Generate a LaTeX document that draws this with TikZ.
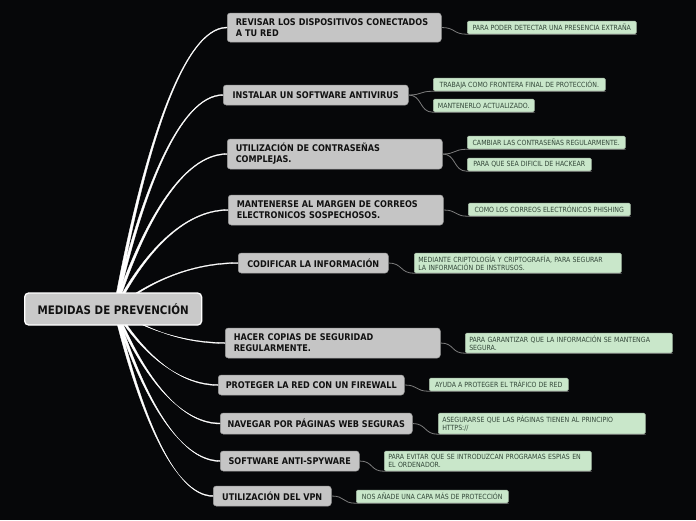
\documentclass[tikz,border=0pt]{standalone}
\usepackage{fontspec}
\setmainfont{DejaVu Sans}
\newfontfamily\mainf[FakeStretch=0.88]{DejaVu Sans}
\usetikzlibrary{calc}
\definecolor{bg}{HTML}{060709}
\definecolor{mainfill}{HTML}{C5C5C5}
\definecolor{mainborder}{HTML}{9A9A9A}
\definecolor{rootfill}{HTML}{C9C9C9}
\definecolor{maintext}{HTML}{111111}
\definecolor{greenfill}{HTML}{C9E7CA}
\definecolor{greenborder}{HTML}{A4B8A4}
\definecolor{greentext}{HTML}{34483A}
\definecolor{twigcol}{HTML}{7C7C7C}
\tikzset{
  rootbox/.style={rounded corners=4pt, fill=rootfill, draw=white, line width=1.3pt,
    font=\mainf\bfseries\fontsize{11.7}{13}\selectfont, text=maintext,
    inner sep=0pt, anchor=west},
  mainbox/.style={rounded corners=3pt, fill=mainfill, draw=mainborder, line width=0.5pt,
    font=\mainf\bfseries\fontsize{9.2}{11}\selectfont, text=maintext, align=left,
    inner sep=0pt, anchor=west},
  mainwide/.style={mainbox, inner xsep=8.5pt, text width=#1},
  greenbox/.style={rounded corners=1.5pt, fill=greenfill, draw=greenborder, line width=0.5pt,
    font=\mainf\fontsize{7.1}{8}\selectfont, text=greentext, align=left,
    inner sep=0pt, anchor=west},
  greenwide/.style={greenbox, inner xsep=4pt, text width=199pt},
  twig/.style={draw=twigcol, line width=0.8pt},
  trunkline/.style={fill=white, draw=white, line width=0.3pt},
}
\newcommand\trunkto[1]{%
  \draw[trunkline] let \p1=(rootc), \p2=(#1.west) in
    ({\x1-1.6pt},\y1) .. controls ({\x1+0.25*(\x2-\x1)-1.2pt},{\y1+0.55*(\y2-\y1)})
      and ({\x1+0.6*(\x2-\x1)},{\y2+0.45pt}) .. ({\x2},{\y2+0.5pt})
    -- ({\x2},{\y2-0.5pt})
    .. controls ({\x1+0.6*(\x2-\x1)},{\y2-0.45pt})
      and ({\x1+0.25*(\x2-\x1)+1.2pt},{\y1+0.55*(\y2-\y1)}) .. ({\x1+1.6pt},\y1)
    -- cycle;}
\newcommand\twigto[2]{%
  \draw[twig] (#1.east) .. controls +(14,0) and +(-14,0) .. (#2.south west) -- (#2.south east);}
\begin{document}
\begin{tikzpicture}[x=1pt,y=-1pt]
\fill[bg] (0,0) rectangle (696,520);
\useasboundingbox (0,0) rectangle (696,520);

\coordinate (rootc) at (115,309);

% main nodes
\node[mainwide=197pt, minimum width=214pt, minimum height=29pt] (m1) at (227,27.5) {REVISAR LOS DISPOSITIVOS CONECTADOS\\A TU RED};
\node[mainbox, minimum width=185pt, minimum height=20pt] (m2) at (223,95) {INSTALAR UN SOFTWARE ANTIVIRUS};
\node[mainwide=198pt, minimum width=215pt, minimum height=30pt] (m3) at (227,154) {UTILIZACIÓN DE CONTRASEÑAS\\COMPLEJAS.};
\node[mainwide=198pt, minimum width=215pt, minimum height=30pt] (m4) at (228,210) {MANTENERSE AL MARGEN DE CORREOS\\ELECTRONICOS SOSPECHOSOS.};
\node[mainbox, minimum width=150pt, minimum height=20pt] (m5) at (238,263) {CODIFICAR LA INFORMACIÓN};
\node[mainwide=198pt, minimum width=215pt, minimum height=30pt] (m6) at (225,343) {HACER COPIAS DE SEGURIDAD\\REGULARMENTE.};
\node[mainbox, minimum width=186pt, minimum height=20pt] (m7) at (218,385) {PROTEGER LA RED CON UN FIREWALL};
\node[mainbox, minimum width=192pt, minimum height=21pt] (m8) at (220,423.5) {NAVEGAR POR PÁGINAS WEB SEGURAS};
\node[mainbox, minimum width=139pt, minimum height=20pt] (m9) at (220,461) {SOFTWARE ANTI-SPYWARE};
\node[mainbox, minimum width=118pt, minimum height=20pt] (m10) at (213,496) {UTILIZACIÓN DEL VPN};

% green nodes
\node[greenbox, minimum width=169pt, minimum height=13pt] (g1) at (467,27.5) {PARA PODER DETECTAR UNA PRESENCIA EXTRAÑA};
\node[greenbox, minimum width=172pt, minimum height=13pt] (g2a) at (433,84.5) {TRABAJA COMO FRONTERA FINAL DE PROTECCIÓN.};
\node[greenbox, minimum width=101pt, minimum height=13pt] (g2b) at (433,105.5) {MANTENERLO ACTUALIZADO.};
\node[greenbox, minimum width=158pt, minimum height=13pt] (g3a) at (467,142.5) {CAMBIAR LAS CONTRASEÑAS REGULARMENTE.};
\node[greenbox, minimum width=124pt, minimum height=13pt] (g3b) at (467,164.5) {PARA QUE SEA DIFICIL DE HACKEAR};
\node[greenbox, minimum width=162pt, minimum height=13pt] (g4) at (468,209.5) {COMO LOS CORREOS ELECTRÓNICOS PHISHING};
\node[greenwide, minimum width=207pt, minimum height=20pt] (g5) at (414,263) {MEDIANTE CRIPTOLOGÍA Y CRIPTOGRAFÍA, PARA SEGURAR\\LA INFORMACIÓN DE INSTRUSOS.};
\node[greenwide, minimum width=207pt, minimum height=20pt] (g6) at (465,343) {PARA GARANTIZAR QUE LA INFORMACIÓN SE MANTENGA\\SEGURA.};
\node[greenbox, minimum width=139pt, minimum height=13pt] (g7) at (429,384.5) {AYUDA A PROTEGER EL TRÁFICO DE RED};
\node[greenwide, minimum width=207pt, minimum height=21pt] (g8) at (438,423.5) {ASEGURARSE QUE LAS PÁGINAS TIENEN AL PRINCIPIO\\HTTPS://};
\node[greenwide, minimum width=207pt, minimum height=20pt] (g9) at (384,461) {PARA EVITAR QUE SE INTRODUZCAN PROGRAMAS ESPIAS EN\\EL ORDENADOR.};
\node[greenbox, minimum width=152pt, minimum height=13pt] (g10) at (356,496.5) {NOS AÑADE UNA CAPA MÁS DE PROTECCIÓN};

% trunk connectors
\trunkto{m1}\trunkto{m2}\trunkto{m3}\trunkto{m4}\trunkto{m5}
\trunkto{m6}\trunkto{m7}\trunkto{m8}\trunkto{m9}\trunkto{m10}

% root on top
\node[rootbox, minimum width=177pt, minimum height=32pt] (root) at (24,309) {MEDIDAS DE PREVENCIÓN};

% twig connectors
\twigto{m1}{g1}
\twigto{m2}{g2a}
\twigto{m2}{g2b}
\twigto{m3}{g3a}
\twigto{m3}{g3b}
\twigto{m4}{g4}
\twigto{m5}{g5}
\twigto{m6}{g6}
\twigto{m7}{g7}
\twigto{m8}{g8}
\twigto{m9}{g9}
\twigto{m10}{g10}
\end{tikzpicture}
\end{document}
